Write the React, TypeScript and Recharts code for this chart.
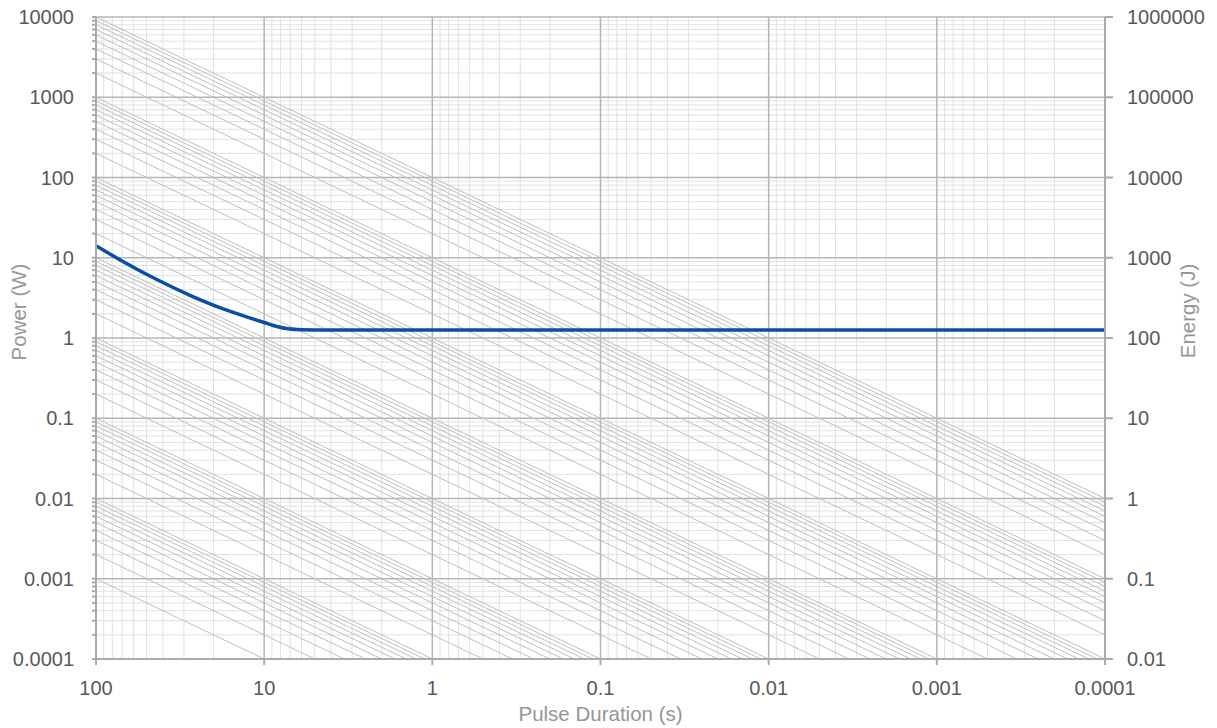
import React from 'react';
import { LineChart, Line, XAxis, YAxis, ReferenceLine } from 'recharts';

// axis ticks
const durationTicks = [100, 10, 1, 0.1, 0.01, 0.001, 0.0001];
const powerTicks = [0.0001, 0.001, 0.01, 0.1, 1, 10, 100, 1000, 10000];
const energyTicks = [0.01, 0.1, 1, 10, 100, 1000, 10000, 100000, 1000000];

// log grid helpers
const minorSteps = [2, 3, 4, 5, 6, 7, 8, 9];
const allSteps = [1, 2, 3, 4, 5, 6, 7, 8, 9];
const durationDecades = [0.0001, 0.001, 0.01, 0.1, 1, 10];
const powerDecades = [0.0001, 0.001, 0.01, 0.1, 1, 10, 100, 1000];

// diagonal guide lines: power where each one leaves the left edge (t = 100 s)
const guideDecades = [0.001, 0.01, 0.1, 1, 10, 100, 1000];
const guideTop = [10000];

// blue curve
const curveDuration = [100, 68.8, 43.5, 27.6, 17.5, 12.6, 10, 8.4, 7.2, 6, 5, 3, 1, 0.1, 0.01, 0.001, 0.0001];
const curvePower = [14.1, 8.93, 5.35, 3.4, 2.3, 1.82, 1.56, 1.39, 1.3, 1.265, 1.26, 1.26, 1.26, 1.26, 1.26, 1.26, 1.26];

const curveData = curveDuration.map((t, i) => ({ t, p: curvePower[i] }));

const guideStarts = [
  ...guideDecades.flatMap((d) => allSteps.map((m) => m * d)),
  ...guideTop,
];
const guideLines = guideStarts.map((p) => [
  { t: 100, p },
  { t: 0.0001, p: (p * 0.0001) / 100 },
]);

const minorX = durationDecades.flatMap((d) => minorSteps.map((m) => m * d));
const minorY = powerDecades.flatMap((d) => minorSteps.map((m) => m * d));
const powerAllTicks = [...powerDecades.flatMap((d) => allSteps.map((m) => m * d)), 10000];

const FONT = '"Liberation Sans", Arial, Helvetica, sans-serif';
const TICK_COLOR = '#595959';
const TITLE_COLOR = '#969696';
const AXIS_COLOR = '#ababab';
const MAJOR_GRID = '#b5b5b5';
const MINOR_GRID = '#e1e1e1';
const GUIDE_COLOR = '#bfbfbf';

const isDecade = (v: number) => Math.abs(Math.log10(v) - Math.round(Math.log10(v))) < 1e-9;
const fmt = (v: number) => String(Number(v.toPrecision(6)));

const xTitle = (props: any) => {
  const vb = props.viewBox;
  return (
    <text x={vb.x + vb.width / 2} y={vb.y + 62} textAnchor="middle" fill={TITLE_COLOR} fontSize={20.5} fontFamily={FONT}>
      Pulse Duration (s)
    </text>
  );
};

const leftTitle = () => (
  <text x={18} y={312} transform="rotate(-90, 18, 312)" textAnchor="middle" dominantBaseline="central" fill={TITLE_COLOR} fontSize={20.5} fontFamily={FONT}>
    Power (W)
  </text>
);

const rightTitle = () => (
  <text x={1187} y={311} transform="rotate(-90, 1187, 311)" textAnchor="middle" dominantBaseline="central" fill={TITLE_COLOR} fontSize={20.5} fontFamily={FONT}>
    Energy (J)
  </text>
);

const App = () => {
  return (
    <div style={{ position: 'absolute', left: 0, top: 0, background: '#fff' }}>
      <LineChart width={1217} height={728} margin={{ top: 17, right: 0, bottom: 0, left: 0 }}>
        <XAxis
          dataKey="t"
          type="number"
          scale="log"
          domain={[0.0001, 100]}
          reversed
          allowDataOverflow
          ticks={durationTicks}
          interval={0}
          tickFormatter={fmt}
          height={69}
          tickSize={6}
          tickMargin={16}
          stroke={AXIS_COLOR}
          strokeWidth={2}
          tick={{ fill: TICK_COLOR, fontSize: 20, fontFamily: FONT }}
          label={xTitle}
        />
        <YAxis
          yAxisId="power"
          type="number"
          scale="log"
          domain={[0.0001, 10000]}
          allowDataOverflow
          ticks={powerAllTicks}
          interval={0}
          tickFormatter={(v: number) => (isDecade(v) ? fmt(v) : '')}
          width={96}
          tickSize={4}
          tickMargin={18}
          stroke={AXIS_COLOR}
          strokeWidth={2}
          tick={{ fill: TICK_COLOR, fontSize: 20, fontFamily: FONT }}
          label={leftTitle}
        />
        <YAxis
          yAxisId="energy"
          orientation="right"
          type="number"
          scale="log"
          domain={[0.01, 1000000]}
          allowDataOverflow
          ticks={energyTicks}
          interval={0}
          tickFormatter={fmt}
          width={112}
          tickSize={8}
          tickMargin={14}
          stroke={AXIS_COLOR}
          strokeWidth={2}
          tick={{ fill: TICK_COLOR, fontSize: 20, fontFamily: FONT, textAnchor: 'start' }}
          label={rightTitle}
        />

        {minorX.map((x) => (
          <ReferenceLine key={`mx-${x}`} x={x} yAxisId="power" stroke={MINOR_GRID} strokeWidth={1} />
        ))}
        {minorY.map((y) => (
          <ReferenceLine key={`my-${y}`} y={y} yAxisId="power" stroke={MINOR_GRID} strokeWidth={1} />
        ))}
        {durationTicks.map((x) => (
          <ReferenceLine key={`jx-${x}`} x={x} yAxisId="power" stroke={MAJOR_GRID} strokeWidth={1.5} />
        ))}
        {powerTicks.map((y) => (
          <ReferenceLine key={`jy-${y}`} y={y} yAxisId="power" stroke={MAJOR_GRID} strokeWidth={1.5} />
        ))}

        {guideLines.map((seg, i) => (
          <Line
            key={`g-${i}`}
            data={seg}
            dataKey="p"
            yAxisId="power"
            type="linear"
            stroke={GUIDE_COLOR}
            strokeWidth={1}
            dot={false}
            activeDot={false}
            isAnimationActive={false}
          />
        ))}

        <Line
          data={curveData}
          dataKey="p"
          yAxisId="power"
          type="monotone"
          stroke="#0b4ea6"
          strokeWidth={3.5}
          dot={false}
          activeDot={false}
          isAnimationActive={false}
        />
      </LineChart>
    </div>
  );
};

export default App;
